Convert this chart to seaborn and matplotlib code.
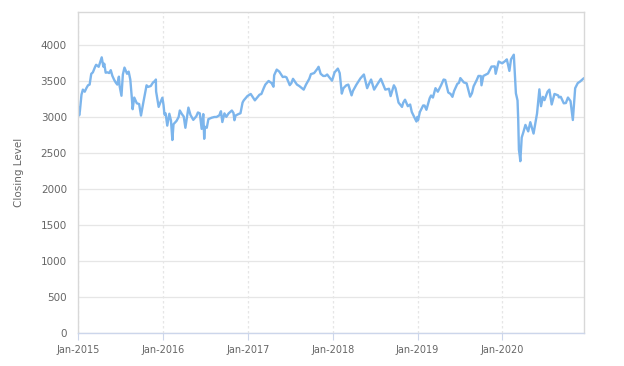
import matplotlib
matplotlib.use("Agg")
import matplotlib.pyplot as plt
import matplotlib.dates as mdates
import seaborn as sns
import pandas as pd
import numpy as np

dates_2015 = ["2015-01-02","2015-01-06","2015-01-09","2015-01-16","2015-01-22","2015-01-30","2015-02-06","2015-02-13","2015-02-20","2015-02-27",
              "2015-03-06","2015-03-16","2015-03-20","2015-03-31","2015-04-13","2015-04-20","2015-04-24","2015-04-30","2015-05-08","2015-05-15",
              "2015-05-22","2015-05-29","2015-06-05","2015-06-12","2015-06-19","2015-06-26","2015-06-29","2015-07-07","2015-07-13","2015-07-20",
              "2015-07-31","2015-08-07","2015-08-14","2015-08-21","2015-08-24","2015-08-31","2015-09-11","2015-09-21","2015-09-29","2015-10-09",
              "2015-10-23","2015-10-30","2015-11-10","2015-11-20","2015-11-30","2015-12-02","2015-12-03","2015-12-14","2015-12-21","2015-12-30"]
vals_2015 = [3139,3022,3080,3310,3380,3351,3400,3440,3450,3599,
             3620,3700,3725,3697,3828,3700,3740,3615,3620,3610,
             3650,3570,3520,3480,3450,3560,3430,3295,3590,3686,
             3600,3630,3520,3250,3108,3270,3190,3180,3020,3200,
             3440,3418,3430,3480,3506,3520,3355,3140,3200,3268]

dates_2016 = ["2016-01-04","2016-01-08","2016-01-13","2016-01-20","2016-01-29","2016-02-05","2016-02-11","2016-02-16","2016-02-29","2016-03-09",
              "2016-03-14","2016-03-23","2016-03-31","2016-04-07","2016-04-20","2016-04-29","2016-05-11","2016-05-24","2016-05-31","2016-06-08",
              "2016-06-16","2016-06-23","2016-06-27","2016-06-30","2016-07-08","2016-07-15","2016-07-29","2016-08-10","2016-08-19","2016-08-31",
              "2016-09-07","2016-09-13","2016-09-22","2016-09-30","2016-10-10","2016-10-24","2016-10-31","2016-11-04","2016-11-09","2016-11-21",
              "2016-11-30","2016-12-09","2016-12-14","2016-12-30"]
vals_2016 = [3165,3033,3050,2880,3045,2950,2680,2900,2946,3000,
             3090,3040,3005,2850,3130,3028,2960,3010,3063,3050,
             2835,3040,2697,2864,2850,2970,2990,3000,3000,3023,
             3080,2930,3050,3002,3050,3090,3055,2955,3020,3040,
             3052,3200,3230,3291]

dates_2017 = ["2017-01-13","2017-01-31","2017-02-10","2017-02-20","2017-02-28","2017-03-10","2017-03-17","2017-03-31","2017-04-13","2017-04-21",
              "2017-04-24","2017-05-05","2017-05-16","2017-05-31","2017-06-09","2017-06-16","2017-06-30","2017-07-07","2017-07-14","2017-07-31",
              "2017-08-10","2017-08-29","2017-09-08","2017-09-22","2017-09-29","2017-10-13","2017-10-27","2017-11-01","2017-11-10","2017-11-21",
              "2017-11-30","2017-12-08","2017-12-15","2017-12-29"]
vals_2017 = [3320,3231,3270,3310,3319,3400,3450,3500,3470,3420,
             3580,3658,3630,3555,3560,3550,3442,3470,3530,3450,
             3430,3380,3450,3530,3595,3610,3670,3697,3600,3570,
             3570,3590,3560,3504]

dates_2018 = ["2018-01-09","2018-01-23","2018-01-31","2018-02-09","2018-02-16","2018-02-28","2018-03-09","2018-03-23","2018-03-29","2018-04-13",
              "2018-04-30","2018-05-15","2018-05-29","2018-06-06","2018-06-15","2018-06-28","2018-07-13","2018-07-27","2018-08-15","2018-08-31",
              "2018-09-07","2018-09-21","2018-09-28","2018-10-11","2018-10-26","2018-10-31","2018-11-08","2018-11-20","2018-11-30","2018-12-07",
              "2018-12-27","2018-12-31"]
vals_2018 = [3620,3672,3609,3325,3400,3439,3450,3300,3362,3450,
             3536,3590,3400,3460,3520,3380,3460,3530,3380,3392,
             3290,3440,3399,3200,3140,3197,3240,3150,3173,3070,
             2937,3001]

dates_2019 = ["2019-01-03","2019-01-11","2019-01-25","2019-01-31","2019-02-08","2019-02-22","2019-02-28","2019-03-08","2019-03-19","2019-03-29",
              "2019-04-12","2019-04-23","2019-04-30","2019-05-13","2019-05-23","2019-05-31","2019-06-07","2019-06-21","2019-06-28","2019-07-04",
              "2019-07-19","2019-07-31","2019-08-15","2019-08-23","2019-08-30","2019-09-12","2019-09-20","2019-09-30","2019-10-03","2019-10-11",
              "2019-10-31","2019-11-15","2019-11-29","2019-12-03","2019-12-16","2019-12-31"]
vals_2019 = [2955,3070,3160,3159,3100,3260,3298,3270,3400,3351,
             3440,3520,3514,3340,3320,3280,3360,3460,3474,3540,
             3480,3467,3282,3330,3426,3510,3570,3569,3440,3570,
             3604,3700,3703,3600,3770,3745]

dates_2020 = ["2020-01-14","2020-01-20","2020-01-31","2020-02-07","2020-02-19","2020-02-24","2020-02-28","2020-03-06","2020-03-09","2020-03-12",
              "2020-03-16","2020-03-18","2020-03-24","2020-03-31","2020-04-09","2020-04-21","2020-04-30","2020-05-14","2020-05-26","2020-05-29",
              "2020-06-08","2020-06-15","2020-06-23","2020-06-30","2020-07-13","2020-07-21","2020-07-31","2020-08-12","2020-08-28","2020-08-31",
              "2020-09-08","2020-09-21","2020-09-30","2020-10-09","2020-10-20","2020-10-30","2020-11-09","2020-11-20","2020-11-30","2020-12-10",
              "2020-12-17"]
vals_2020 = [3780,3800,3640,3800,3865,3580,3329,3230,2960,2545,
             2450,2386,2715,2787,2890,2800,2928,2770,3000,3050,
             3384,3150,3280,3234,3350,3380,3174,3320,3300,3272,
             3280,3190,3194,3270,3220,2958,3400,3470,3492,3520,
             3540]

tick_years = [2015, 2016, 2017, 2018, 2019, 2020]
y_ticks = [0, 500, 1000, 1500, 2000, 2500, 3000, 3500, 4000]

df = pd.DataFrame({
    "Date": pd.to_datetime(dates_2015 + dates_2016 + dates_2017 + dates_2018 + dates_2019 + dates_2020),
    "Close": vals_2015 + vals_2016 + vals_2017 + vals_2018 + vals_2019 + vals_2020,
})

sns.set_theme(style="white")
plt.rcParams['font.family'] = ['DejaVu Sans']

fig = plt.figure(figsize=(6.24, 3.66), dpi=100)
ax = fig.add_axes([78/624, 33/366, (584-78)/624, (333-12)/366])

sns.lineplot(data=df, x="Date", y="Close", ax=ax, color="#7cb5ec", linewidth=1.7)

ax.set_xlim(pd.Timestamp("2015-01-01"), pd.Timestamp("2020-12-17"))
ax.set_ylim(0, 4458)
ax.set_yticks(y_ticks)
ax.set_xticks([pd.Timestamp(f"{y}-01-01") for y in tick_years])
ax.xaxis.set_major_formatter(mdates.DateFormatter("%b-%Y"))

ax.grid(axis="y", color="#e6e6e6", linewidth=0.9, linestyle="-")
ax.grid(axis="x", color="#e6e6e6", linewidth=0.9, linestyle=(0, (2, 2)))
ax.set_axisbelow(True)

for s in ax.spines.values():
    s.set_color("#d8d8d8")
    s.set_linewidth(1.0)
ax.spines["bottom"].set_color("#ccd6eb")

ax.tick_params(axis="x", colors="#666666", labelsize=7, length=5, width=0.8, direction="out", color="#ccd6eb", bottom=True)
ax.tick_params(axis="y", colors="#666666", labelsize=7.5, length=0, pad=8)

ax.set_xlabel("")
ax.set_ylabel("Closing Level", color="#666666", fontsize=7.5, labelpad=12)

fig.savefig("out.png", dpi=100)
